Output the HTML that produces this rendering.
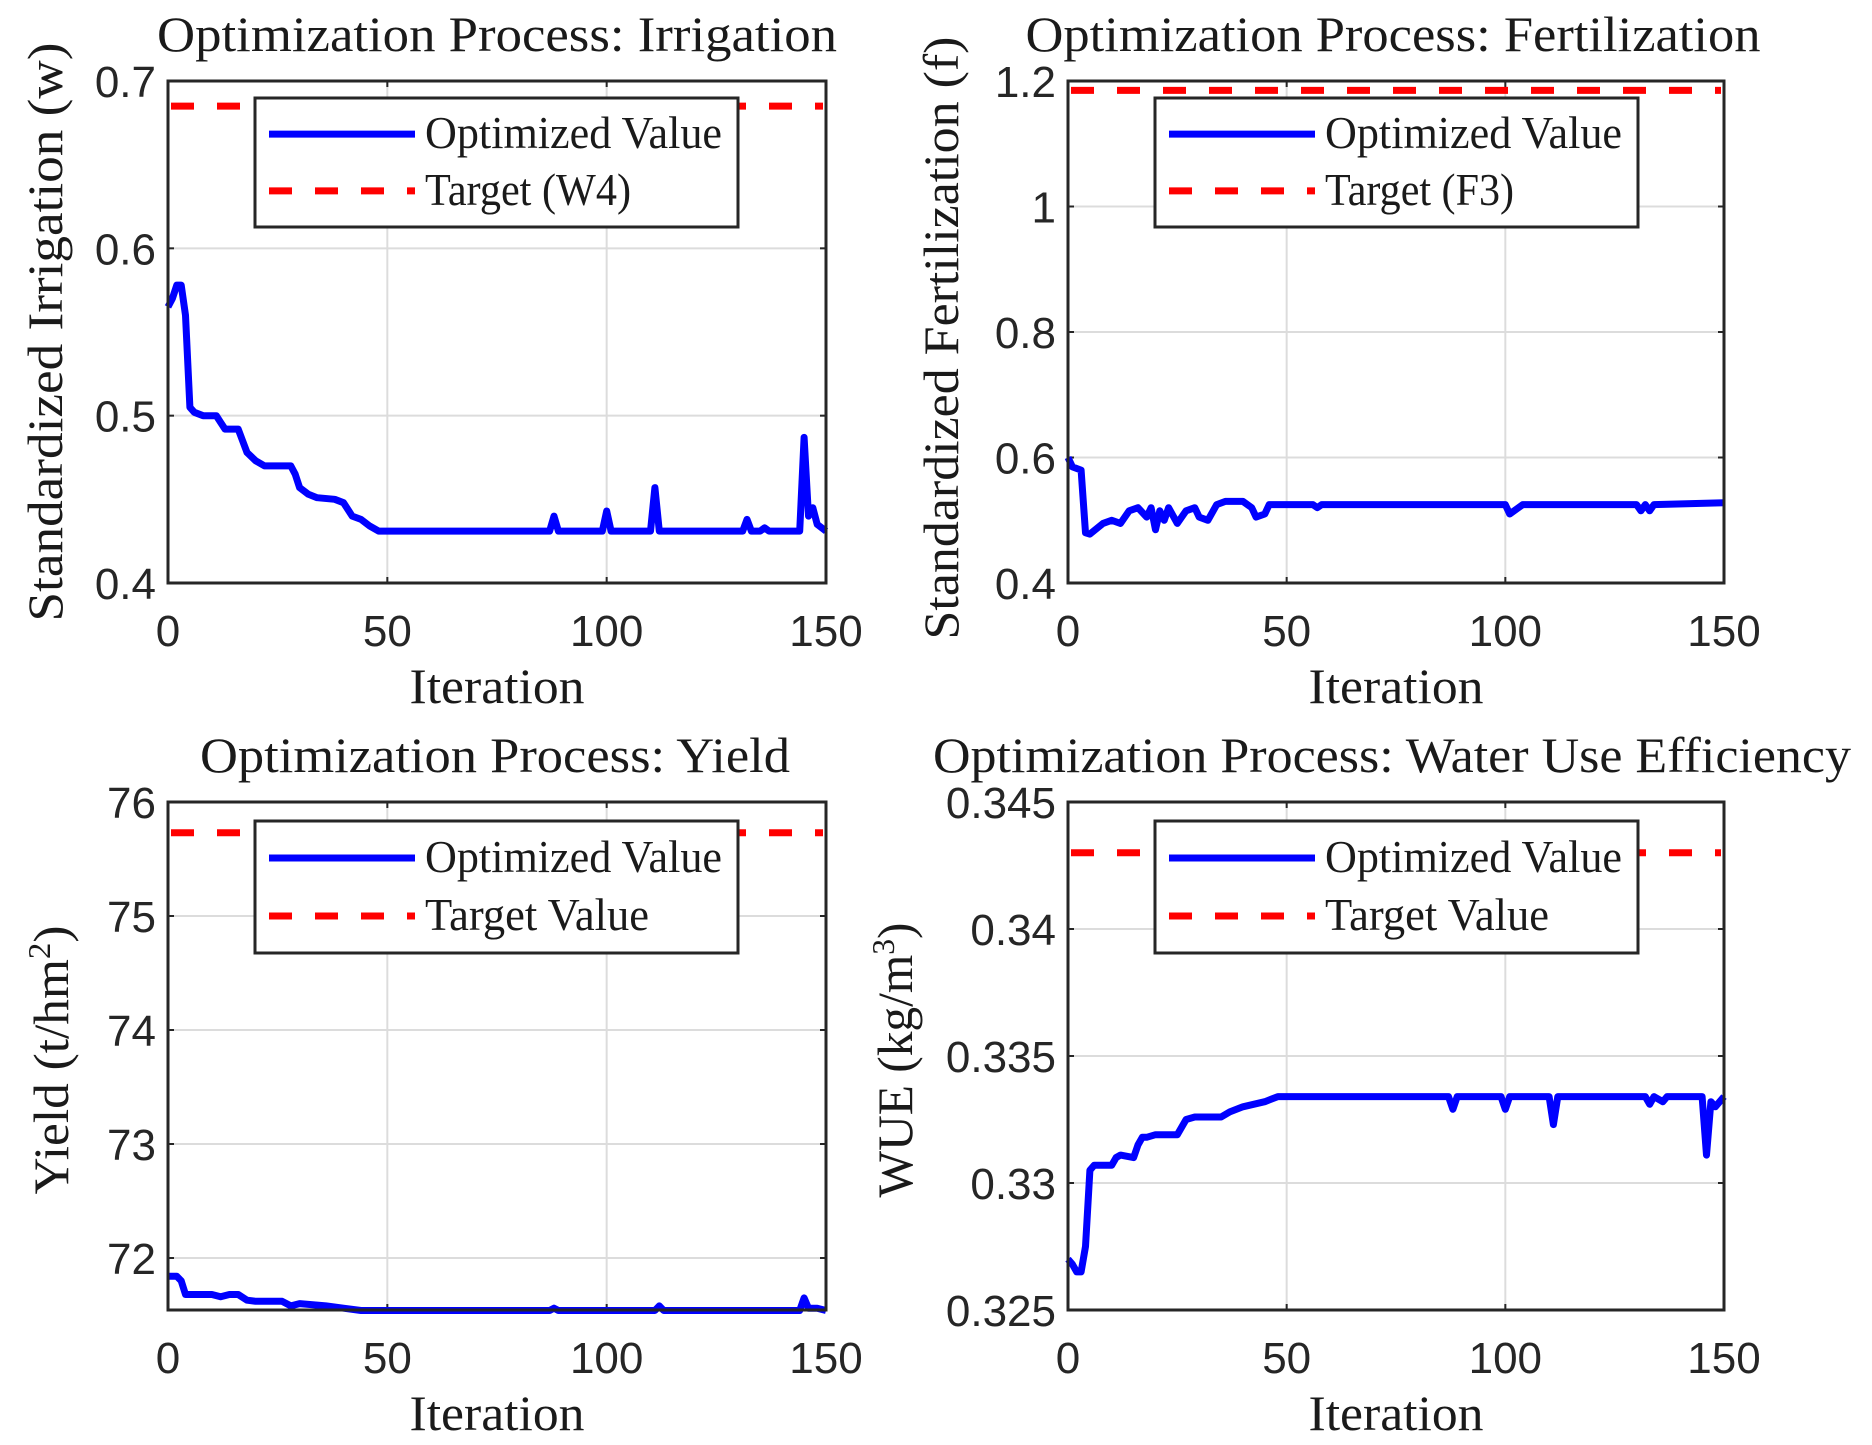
<!DOCTYPE html>
<html><head><meta charset="utf-8"><style>
html,body{margin:0;padding:0;background:#fff;}
svg{display:block;}
.tick{font-family:"Liberation Sans",sans-serif;font-size:44px;fill:#262626;}
.ser{font-family:"Liberation Serif",serif;fill:#1a1a1a;}
</style></head><body>
<svg id="fig" width="1872" height="1445" viewBox="0 0 1872 1445" xmlns="http://www.w3.org/2000/svg"></svg>
<script>
const NS="http://www.w3.org/2000/svg";
// ---- data ----
const irrIter=[0,1,2,3,4,5,6,8,11,12,13,16,17,18,20,22,28,29,30,32,34,38,40,42,44,46,48,87,88,89,99,100,101,110,111,112,131,132,133,135,136,137,144,145,146,147,148,150];
const irrVal=[0.565,0.57,0.578,0.578,0.56,0.505,0.502,0.5,0.5,0.496,0.492,0.492,0.485,0.478,0.473,0.47,0.47,0.465,0.457,0.453,0.451,0.45,0.448,0.44,0.438,0.434,0.431,0.431,0.44,0.431,0.431,0.443,0.431,0.431,0.457,0.431,0.431,0.438,0.431,0.431,0.433,0.431,0.431,0.487,0.44,0.445,0.435,0.431];
const irrTarget=0.685;
const ferIter=[0,1,3,4,5,8,10,12,14,16,18,19,20,21,22,23,25,27,29,30,32,34,36,40,42,43,45,46,56,57,58,100,101,103,104,130,131,132,133,134,150];
const ferVal=[0.6,0.585,0.58,0.48,0.478,0.495,0.5,0.495,0.515,0.52,0.505,0.52,0.485,0.515,0.5,0.52,0.495,0.515,0.52,0.505,0.5,0.525,0.53,0.53,0.52,0.505,0.51,0.525,0.525,0.52,0.525,0.525,0.51,0.52,0.525,0.525,0.515,0.525,0.515,0.525,0.528];
const ferTarget=1.185;
const yldIter=[0,2,3,4,10,12,14,16,18,20,26,28,30,36,40,44,87,88,89,111,112,113,144,145,146,148,150];
const yldVal=[71.84,71.84,71.8,71.68,71.68,71.66,71.68,71.68,71.63,71.62,71.62,71.58,71.6,71.58,71.56,71.54,71.54,71.56,71.54,71.54,71.58,71.54,71.54,71.65,71.56,71.56,71.54];
const yldTarget=75.73;
const wueIter=[0,1,2,3,4,5,6,10,11,12,15,16,17,18,20,25,26,27,29,35,37,40,45,48,87,88,89,99,100,101,110,111,112,132,133,134,136,137,145,146,147,148,150];
const wueVal=[0.327,0.3268,0.3265,0.3265,0.3275,0.3305,0.3307,0.3307,0.331,0.3311,0.331,0.3315,0.3318,0.3318,0.3319,0.3319,0.3322,0.3325,0.3326,0.3326,0.3328,0.333,0.3332,0.3334,0.3334,0.3329,0.3334,0.3334,0.3329,0.3334,0.3334,0.3323,0.3334,0.3334,0.3331,0.3334,0.3332,0.3334,0.3334,0.3311,0.3332,0.333,0.3334];
const wueTarget=0.343;
const xTicks=[0,50,100,150];
const irrTicks=[0.4,0.5,0.6,0.7], irrTickLbl=["0.4","0.5","0.6","0.7"];
const ferTicks=[0.4,0.6,0.8,1,1.2], ferTickLbl=["0.4","0.6","0.8","1","1.2"];
const yldTicks=[72,73,74,75,76], yldTickLbl=["72","73","74","75","76"];
const wueTicks=[0.325,0.33,0.335,0.34,0.345], wueTickLbl=["0.325","0.33","0.335","0.34","0.345"];

const svg=document.getElementById('fig');
function mk(tag,attrs,parent){const e=document.createElementNS(NS,tag);for(const k in attrs)e.setAttribute(k,attrs[k]);(parent||svg).appendChild(e);return e;}

function panel(o){
  const g=mk('g',{});
  
  
  const L=o.x0,R=o.x1,T=o.y0,B=o.y1;
  const sx=v=>L+(v-0)/150*(R-L);
  const sy=v=>B-(v-o.ymin)/(o.ymax-o.ymin)*(B-T);
  xTicks.forEach(t=>{const l=mk('line',{x1:sx(t),x2:sx(t),y1:T,y2:B,stroke:'#dcdcdc','stroke-width':2},g);
    });
  o.yt.forEach(t=>{const l=mk('line',{x1:L,x2:R,y1:sy(t),y2:sy(t),stroke:'#dcdcdc','stroke-width':2},g);
    });
  xTicks.forEach(t=>{mk('line',{x1:sx(t),x2:sx(t),y1:B,y2:B-6,stroke:'#262626','stroke-width':2},g);mk('line',{x1:sx(t),x2:sx(t),y1:T,y2:T+6,stroke:'#262626','stroke-width':2},g);});
  o.yt.forEach(t=>{mk('line',{x1:L,x2:L+6,y1:sy(t),y2:sy(t),stroke:'#262626','stroke-width':2},g);mk('line',{x1:R,x2:R-6,y1:sy(t),y2:sy(t),stroke:'#262626','stroke-width':2},g);});
  const tl=mk('line',{x1:L+3,x2:R-3,y1:sy(o.target),y2:sy(o.target),stroke:'#ff0000','stroke-width':7,'stroke-dasharray':'23 23'},g);
  
  const pts=o.it.map((v,i)=>sx(v).toFixed(1)+','+sy(o.val[i]).toFixed(1)).join(' ');
  const pl=mk('polyline',{points:pts,fill:'none',stroke:'#0000ff','stroke-width':7,'stroke-linejoin':'round'},g);
  
  const fr=mk('rect',{x:L,y:T,width:R-L,height:B-T,fill:'none',stroke:'#262626','stroke-width':3},g);
  
  xTicks.forEach(t=>{const tx=mk('text',{x:sx(t),y:B+63,'text-anchor':'middle',class:'tick'},g);tx.textContent=t;
    });
  o.yt.forEach((t,i)=>{const tx=mk('text',{x:L-12,y:sy(t)+16,'text-anchor':'end',class:'tick'},g);tx.textContent=o.ytl[i];
    });
  const ti=mk('text',{x:o.tx,y:T-30,'text-anchor':'middle',class:'ser','font-size':50,textLength:o.tw,lengthAdjust:'spacingAndGlyphs'},g);ti.textContent=o.title;
  
  const xl=mk('text',{x:(L+R)/2,y:B+120,'text-anchor':'middle',class:'ser','font-size':50,textLength:175,lengthAdjust:'spacingAndGlyphs'},g);xl.textContent='Iteration';
  
  const yl=mk('text',{x:0,y:0,'text-anchor':'middle',class:'ser','font-size':50,textLength:o.ylw,lengthAdjust:'spacingAndGlyphs',transform:`translate(${o.ylx},${o.yly}) rotate(-90)`},g);
  yl.innerHTML=o.ylabel;
  
  const lg=mk('g',{},g);
  
  const lt=o.legTop, lh=o.legH;
  mk('rect',{x:L+87,y:lt,width:483,height:lh,fill:'#fff',stroke:'#262626','stroke-width':3},lg);
  const r1=lt+lh*0.28, r2=lt+lh*0.72;
  mk('line',{x1:L+101,x2:L+247,y1:r1,y2:r1,stroke:'#0000ff','stroke-width':7},lg);
  mk('line',{x1:L+101,x2:L+247,y1:r2,y2:r2,stroke:'#ff0000','stroke-width':7,'stroke-dasharray':'23 23'},lg);
  const t1=mk('text',{x:L+257,y:r1+14,class:'ser','font-size':46,textLength:297,lengthAdjust:'spacingAndGlyphs'},lg);t1.textContent='Optimized Value';
  
  const t2=mk('text',{x:L+257,y:r2+14,class:'ser','font-size':46,textLength:o.ltw,lengthAdjust:'spacingAndGlyphs'},lg);t2.textContent=o.legTarget;
  
}
panel({name:'irrigation-panel',x0:168,x1:826,y0:81,y1:583,ymin:0.4,ymax:0.7,yt:irrTicks,ytl:irrTickLbl,target:irrTarget,it:irrIter,val:irrVal,
  title:'Optimization Process: Irrigation',tx:497,tw:680,ylabel:'Standardized Irrigation (w)',ylw:579,ylx:62,yly:332,legTop:98,legH:129,legTarget:'Target (W4)',ltw:206});
panel({name:'fertilization-panel',x0:1068,x1:1724,y0:81,y1:583,ymin:0.4,ymax:1.2,yt:ferTicks,ytl:ferTickLbl,target:ferTarget,it:ferIter,val:ferVal,
  title:'Optimization Process: Fertilization',tx:1393,tw:735,ylabel:'Standardized Fertilization (f)',ylw:603,ylx:958,yly:338,legTop:98,legH:129,legTarget:'Target (F3)',ltw:189});
panel({name:'yield-panel',x0:168,x1:826,y0:802,y1:1310,ymin:71.544,ymax:76,yt:yldTicks,ytl:yldTickLbl,target:yldTarget,it:yldIter,val:yldVal,
  title:'Optimization Process: Yield',tx:495,tw:590,ylabel:'Yield (t/hm<tspan dy="-18" font-size="32">2</tspan><tspan dy="18">)</tspan>',ylw:269,ylx:68,yly:1060,legTop:821,legH:132,legTarget:'Target Value',ltw:224});
panel({name:'wue-panel',x0:1068,x1:1724,y0:802,y1:1310,ymin:0.325,ymax:0.345,yt:wueTicks,ytl:wueTickLbl,target:wueTarget,it:wueIter,val:wueVal,
  title:'Optimization Process: Water Use Efficiency',tx:1392,tw:918,ylabel:'WUE (kg/m<tspan dy="-18" font-size="32">3</tspan><tspan dy="18">)</tspan>',ylw:275,ylx:912,yly:1060,legTop:821,legH:132,legTarget:'Target Value',ltw:224});
</script>
</body></html>
